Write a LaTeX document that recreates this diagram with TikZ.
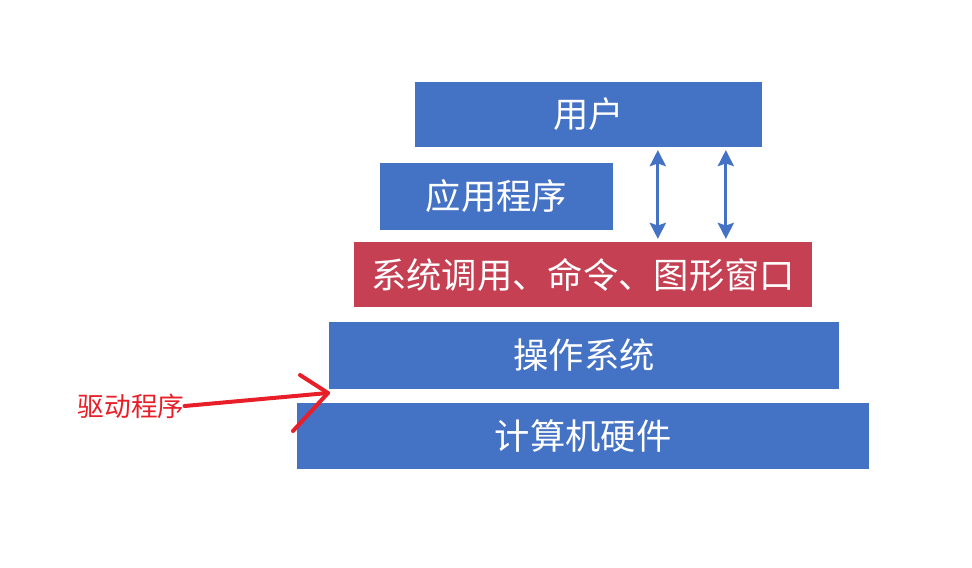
\documentclass[tikz,border=0pt]{standalone}
\usepackage{fontspec}
\setmainfont{Noto Sans CJK SC}
\usetikzlibrary{positioning, arrows.meta}
\definecolor{lblue}{RGB}{68,114,196}
\definecolor{lred}{RGB}{196,64,82}
\definecolor{pen}{RGB}{232,30,40}

\begin{document}
\begin{tikzpicture}[
  x=0.75pt, y=-0.75pt,
  layer/.style={fill=lblue, text=white, inner sep=0pt, font=\fontsize{26.5}{29}\selectfont},
  rlayer/.style={layer, fill=lred},
  barr/.style={{Stealth[length=12pt,width=12pt,inset=2pt]}-{Stealth[length=12pt,width=12pt,inset=2pt]}, lblue, line width=2.4pt, shorten <=2pt, shorten >=2pt},
  rline/.style={pen, line width=3pt, line cap=round, line join=round},
]
\useasboundingbox (0,0) rectangle (972,568);
\node[layer, minimum width=260pt, minimum height=49pt] (user) at (588.5,114.5) {用户};
\node[layer, minimum width=175pt, minimum height=50pt] (app) at (496.5,196.5) {应用程序};
\node[rlayer, minimum width=343.5pt, minimum height=49pt] (sys) at (583,274.5) {系统调用、命令、图形窗口};
\node[layer, minimum width=382.5pt, minimum height=50pt] (os) at (584,355.5) {操作系统};
\node[layer, minimum width=429pt, minimum height=49.5pt] (hw) at (583,436) {计算机硬件};

\draw[barr] ([xshift=52pt]user.south) -- ([xshift=52pt]user.south |- sys.north);
\draw[barr] ([xshift=103pt]user.south) -- ([xshift=103pt]user.south |- sys.north);

\node[pen, font=\fontsize{20}{22}\selectfont, inner sep=0pt] (drv) at (131,406) {驱动程序};
\coordinate (tip) at (328,393);
\draw[rline] (drv.east) -- (tip);
\draw[rline] (300,375) -- (tip) -- (293,431);
\end{tikzpicture}
\end{document}
